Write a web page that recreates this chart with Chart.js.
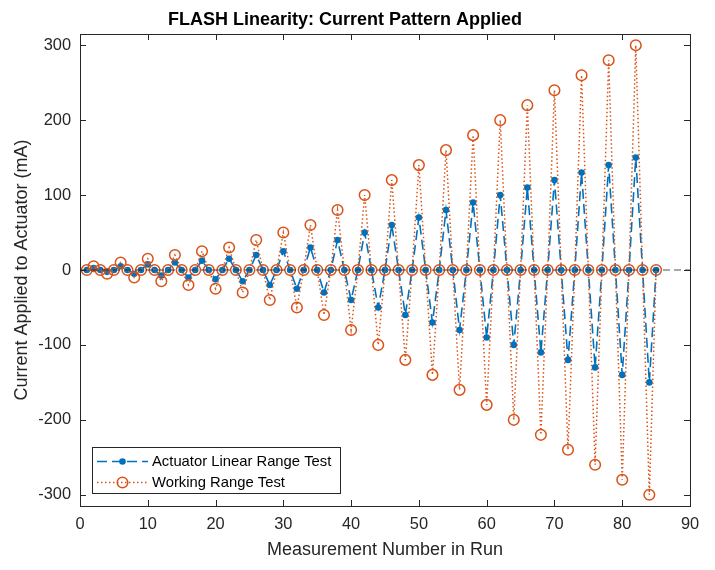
<!DOCTYPE html>
<html>
<head>
<meta charset="utf-8">
<script src="https://cdn.jsdelivr.net/npm/chart.js@4.4.1/dist/chart.umd.min.js"></script>
<style>
  html, body { margin: 0; padding: 0; background: #fff; }
  #wrap { width: 715px; height: 570px; }
</style>
</head>
<body>
<div id="wrap"><canvas id="c" width="715" height="570"></canvas></div>
<script>
// ---- data ----
const titleText = 'FLASH Linearity: Current Pattern Applied';
const xLabel = 'Measurement Number in Run';
const yLabel = 'Current Applied to Actuator (mA)';
const seriesNames = ['Actuator Linear Range Test', 'Working Range Test'];

const runNumbers = [
  1, 2, 3, 4, 5, 6, 7, 8, 9, 10, 11, 12, 13, 14, 15, 16, 17, 18, 19, 20,
  21, 22, 23, 24, 25, 26, 27, 28, 29, 30, 31, 32, 33, 34, 35, 36, 37, 38, 39, 40,
  41, 42, 43, 44, 45, 46, 47, 48, 49, 50, 51, 52, 53, 54, 55, 56, 57, 58, 59, 60,
  61, 62, 63, 64, 65, 66, 67, 68, 69, 70, 71, 72, 73, 74, 75, 76, 77, 78, 79, 80,
  81, 82, 83, 84, 85
];

const actuatorLinear = [
  0, 2.5, 0, -2.5,   0, 5, 0, -5,   0, 7.5, 0, -7.5,   0, 10, 0, -10,
  0, 12.5, 0, -12.5, 0, 15, 0, -15, 0, 20, 0, -20,     0, 25, 0, -25,
  0, 30, 0, -30,     0, 40, 0, -40, 0, 50, 0, -50,     0, 60, 0, -60,
  0, 70, 0, -70,     0, 80, 0, -80, 0, 90, 0, -90,     0, 100, 0, -100,
  0, 110, 0, -110,   0, 120, 0, -120, 0, 130, 0, -130, 0, 140, 0, -140,
  0, 150, 0, -150,
  0
];

const workingRange = [
  0, 5, 0, -5,       0, 10, 0, -10,   0, 15, 0, -15,   0, 20, 0, -20,
  0, 25, 0, -25,     0, 30, 0, -30,   0, 40, 0, -40,   0, 50, 0, -50,
  0, 60, 0, -60,     0, 80, 0, -80,   0, 100, 0, -100, 0, 120, 0, -120,
  0, 140, 0, -140,   0, 160, 0, -160, 0, 180, 0, -180, 0, 200, 0, -200,
  0, 220, 0, -220,   0, 240, 0, -240, 0, 260, 0, -260, 0, 280, 0, -280,
  0, 300, 0, -300,
  0
];

const zeroLineX = [0, 90];
const zeroLineY = [0, 0];

const xTicks = [0, 10, 20, 30, 40, 50, 60, 70, 80, 90];
const yTicks = [-300, -200, -100, 0, 100, 200, 300];
const xRange = [0, 90];
const yRange = [-315, 315];

// ---- styles ----
const FONT = "'Liberation Sans', Arial, Helvetica, sans-serif";
const AX = '#262626';
const BLUE = '#0072BD';
const RED = '#D95319';

function toPoints(xs, ys) { return xs.map((x, i) => ({ x: x, y: ys[i] })); }

const boxPlugin = {
  id: 'matlabBox',
  afterDraw(chart) {
    const { ctx, chartArea: a } = chart;
    const xs = chart.scales.x, ys = chart.scales.y;
    const tl = 6;
    ctx.save();
    ctx.strokeStyle = AX;
    ctx.lineWidth = 1;
    ctx.beginPath();
    xs.ticks.forEach(t => {
      const px = Math.round(xs.getPixelForValue(t.value)) + 0.5;
      ctx.moveTo(px, a.bottom); ctx.lineTo(px, a.bottom - tl);
      ctx.moveTo(px, a.top); ctx.lineTo(px, a.top + tl);
    });
    ys.ticks.forEach(t => {
      const py = Math.round(ys.getPixelForValue(t.value)) + 0.5;
      ctx.moveTo(a.left, py); ctx.lineTo(a.left + tl, py);
      ctx.moveTo(a.right, py); ctx.lineTo(a.right - tl, py);
    });
    ctx.stroke();
    ctx.strokeRect(Math.round(a.left) + 0.5, Math.round(a.top) + 0.5,
                   Math.round(a.right - a.left), Math.round(a.bottom - a.top));

    // legend
    const lx = 92.5, ly = 447.5, lw = 248, lh = 46;
    ctx.fillStyle = '#fff';
    ctx.fillRect(lx, ly, lw, lh);
    ctx.strokeStyle = AX;
    ctx.lineWidth = 1;
    ctx.strokeRect(lx, ly, lw, lh);
    const ds = chart.data.datasets;
    const rows = [461.5, 482.5];
    for (let i = 0; i < 2; i++) {
      const d = ds[i];
      const y = rows[i];
      ctx.save();
      ctx.strokeStyle = d.borderColor;
      ctx.lineWidth = d.borderWidth;
      ctx.setLineDash(d.borderDash);
      ctx.beginPath();
      ctx.moveTo(97, y); ctx.lineTo(148, y);
      ctx.stroke();
      ctx.setLineDash([]);
      ctx.beginPath();
      ctx.arc(122.5, y, d.pointRadius, 0, Math.PI * 2);
      if (i === 0) { ctx.fillStyle = d.pointBackgroundColor; ctx.fill(); }
      else { ctx.strokeStyle = d.pointBorderColor; ctx.lineWidth = d.pointBorderWidth; ctx.stroke(); }
      ctx.restore();
      ctx.fillStyle = '#000';
      ctx.font = '14.8px ' + FONT;
      ctx.textAlign = 'left';
      ctx.textBaseline = 'middle';
      ctx.fillText(d.label, 152, y + 0.5);
    }
    ctx.restore();
  }
};

const ctx = document.getElementById('c').getContext('2d');
new Chart(ctx, {
  type: 'line',
  data: {
    datasets: [
      {
        label: seriesNames[0],
        data: toPoints(runNumbers, actuatorLinear),
        borderColor: BLUE,
        borderWidth: 1.6,
        borderDash: [10, 5],
        pointRadius: 3.3,
        pointBackgroundColor: BLUE,
        pointBorderColor: BLUE,
        pointBorderWidth: 0,
        tension: 0,
        order: 2
      },
      {
        label: seriesNames[1],
        data: toPoints(runNumbers, workingRange),
        borderColor: RED,
        borderWidth: 1.5,
        borderDash: [1.5, 2.5],
        pointRadius: 5.3,
        pointBackgroundColor: 'rgba(0,0,0,0)',
        pointBorderColor: RED,
        pointBorderWidth: 1.5,
        tension: 0,
        order: 1
      },
      {
        label: 'zero',
        data: toPoints(zeroLineX, zeroLineY),
        borderColor: 'rgba(38,38,38,0.8)',
        borderWidth: 1,
        borderDash: [7, 4],
        pointRadius: 0,
        tension: 0,
        order: 0
      }
    ]
  },
  options: {
    responsive: false,
    animation: false,
    devicePixelRatio: 1,
    events: [],
    layout: { padding: { left: 0, right: 25, top: 0, bottom: 0 } },
    plugins: {
      legend: { display: false },
      tooltip: { enabled: false },
      title: {
        display: true,
        text: titleText,
        color: '#000',
        font: { family: FONT, size: 18, weight: 'bold', lineHeight: 1.2 },
        padding: { top: 9.2, bottom: 3.2 }
      }
    },
    scales: {
      x: {
        type: 'linear',
        min: xRange[0], max: xRange[1],
        afterBuildTicks: s => { s.ticks = xTicks.map(v => ({ value: v })); },
        ticks: { color: AX, font: { family: FONT, size: 16.4 }, padding: 9, maxRotation: 0, autoSkip: false },
        grid: { display: false, drawTicks: false },
        border: { display: false },
        title: { display: true, text: xLabel, color: AX, font: { family: FONT, size: 18, lineHeight: 1.2 }, padding: { top: 0, bottom: 9.2 } },
        afterFit: s => { s.height = 64; }
      },
      y: {
        type: 'linear',
        min: yRange[0], max: yRange[1],
        afterBuildTicks: s => { s.ticks = yTicks.map(v => ({ value: v })); },
        ticks: { color: AX, font: { family: FONT, size: 16.4 }, padding: 9, autoSkip: false },
        grid: { display: false, drawTicks: false },
        border: { display: false },
        title: { display: true, text: yLabel, color: AX, font: { family: FONT, size: 18, lineHeight: 1.2 }, padding: { top: 11.2, bottom: 0 } },
        afterFit: s => { s.width = 80; }
      }
    }
  },
  plugins: [boxPlugin]
});
</script>
</body>
</html>
